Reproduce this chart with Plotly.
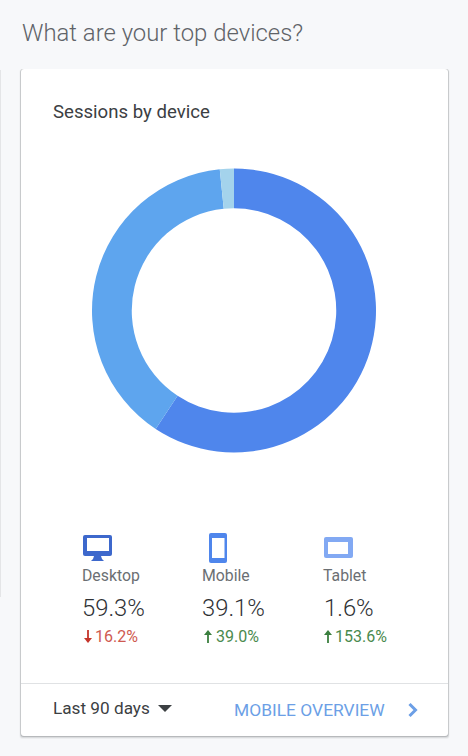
import plotly.graph_objects as go

W, H = 468, 756
devices = ["Desktop", "Mobile", "Tablet"]
shares = [59.3, 39.1, 1.6]
share_labels = ["59.3%", "39.1%", "1.6%"]
delta_labels = ["16.2%", "39.0%", "153.6%"]
delta_up = [False, True, True]
slice_colors = ["#4F86EC", "#5EA5EE", "#A4D3EC"]

TXT = "#3C4043"
FONT = "Roboto"
fig = go.Figure()
fig.add_trace(go.Pie(
    labels=devices, values=shares, sort=False, direction="clockwise", rotation=0,
    hole=0.72, textinfo="none", hoverinfo="label+percent", showlegend=False,
    marker=dict(colors=slice_colors, line=dict(width=0)),
    domain=dict(x=[92/W, 376/W], y=[1-452.5/H, 1-168.5/H]),
))

shapes = []
def rect(x0, y0, x1, y1, fill, layer="below"):
    shapes.append(dict(type="rect", xref="x", yref="y", x0=x0, y0=y0, x1=x1, y1=y1,
                       fillcolor=fill, layer=layer, line=dict(color="rgba(0,0,0,0)", width=0)))
def rrect_path(x0, y0, x1, y1, r):
    return (f"M{x0+r},{y0} L{x1-r},{y0} Q{x1},{y0} {x1},{y0+r} L{x1},{y1-r} Q{x1},{y1} {x1-r},{y1} "
            f"L{x0+r},{y1} Q{x0},{y1} {x0},{y1-r} L{x0},{y0+r} Q{x0},{y0} {x0+r},{y0} Z")
def path(d, fill="rgba(0,0,0,0)", line=None, lw=0, layer="above"):
    shapes.append(dict(type="path", xref="x", yref="y", path=d, fillcolor=fill, layer=layer,
                       line=dict(color=line or "rgba(0,0,0,0)", width=lw)))

# left neighbour card edge
rect(0, 70, 1, 597, "#E4E5E7")
# card shadow + card
for off, a in [(3, .05), (2, .10), (1, .22)]:
    path(rrect_path(21-off/2, 69, 448+off/2, 736+off, 3), fill=f"rgba(60,64,67,{a})", layer="below")
path(rrect_path(21, 69, 448, 736, 3), fill="#FFFFFF", layer="below")
# footer divider
shapes.append(dict(type="line", xref="x", yref="y", x0=21, x1=448, y0=683.5, y1=683.5,
                   layer="below", line=dict(color="#E0E2E4", width=1)))

def icon(outer, inner, color):
    path(rrect_path(*outer, 2), fill=color)
    rect(*inner, "#FFFFFF", layer="above")

# desktop icon
icon((83, 535, 112, 556), (87, 538, 109, 551), "#3D68CC")
path("M94,556 L101,556 L102,559 L104,561 L91,561 L93,559 Z", fill="#3D68CC")
# mobile icon
icon((209, 533, 227, 563), (212, 538, 224.5, 558), "#4F86EC")
# tablet icon
icon((324, 537, 353, 558), (328, 542, 348, 554), "#82A9F3")

# footer glyphs
path("M158,705 L172,705 L165,712 Z", fill="#3C4043")
path("M409.5,704 L415.5,710 L409.5,716", line="#6C9FE6", lw=3)

# delta arrows
def arrow(x, ytop, ybot, up, color):
    if up:
        path(f"M{x},{ybot} L{x},{ytop+2}", line=color, lw=1.8)
        path(f"M{x-4},{ytop+5} L{x},{ytop} L{x+4},{ytop+5} Z", fill=color)
    else:
        path(f"M{x},{ytop} L{x},{ybot-2}", line=color, lw=1.8)
        path(f"M{x-4},{ybot-5} L{x},{ybot} L{x+4},{ybot-5} Z", fill=color)

ann = []
def text(x, y, s, size, color=TXT, weight=400, anchor="left"):
    ann.append(dict(x=x-2, y=y, xref="x", yref="y", text=s, showarrow=False, xanchor=anchor,
                    yanchor="middle", align=anchor,
                    font=dict(family=FONT, size=size, color=color, weight=weight)))

text(21.5, 32.5, "What are your top devices?", 23.9, "#5F6368", 300)
text(53, 111.5, "Sessions by device", 18.6, TXT)

col_x = [82, 202, 322.5]
arrow_x = [88, 208, 328]
delta_x = [95, 215.5, 334.5]
for i, d in enumerate(devices):
    text(col_x[i], 575.5, d, 15.8, "#6B6F73")
    text(col_x[i] + (1 if i == 2 else 0), 607.5, share_labels[i], 23.8, "#2F3235", 300)
    c = "#3B7F3F" if delta_up[i] else "#C5352B"
    arrow(arrow_x[i], 630, 643, delta_up[i], c)
    text(delta_x[i], 636.5, delta_labels[i], 16, "#4A8A4E" if delta_up[i] else "#CF5A50")

text(53, 708, "Last 90 days", 17.2, TXT)
text(234, 710, "MOBILE OVERVIEW", 17.4, "#6C9FE6")

fig.update_layout(
    width=W, height=H, margin=dict(l=0, r=0, t=0, b=0),
    paper_bgcolor="#F7F8FA", plot_bgcolor="rgba(0,0,0,0)",
    xaxis=dict(range=[0, W], visible=False, fixedrange=True),
    yaxis=dict(range=[H, 0], visible=False, fixedrange=True),
    shapes=shapes, annotations=ann,
)
fig.add_trace(go.Scatter(x=[0, W], y=[0, H], mode="markers", marker=dict(opacity=0),
                         hoverinfo="skip", showlegend=False))
fig.write_html("out.html", config=dict(displayModeBar=False),
               post_script="document.body.style.margin='0';document.body.style.overflow='hidden';")
